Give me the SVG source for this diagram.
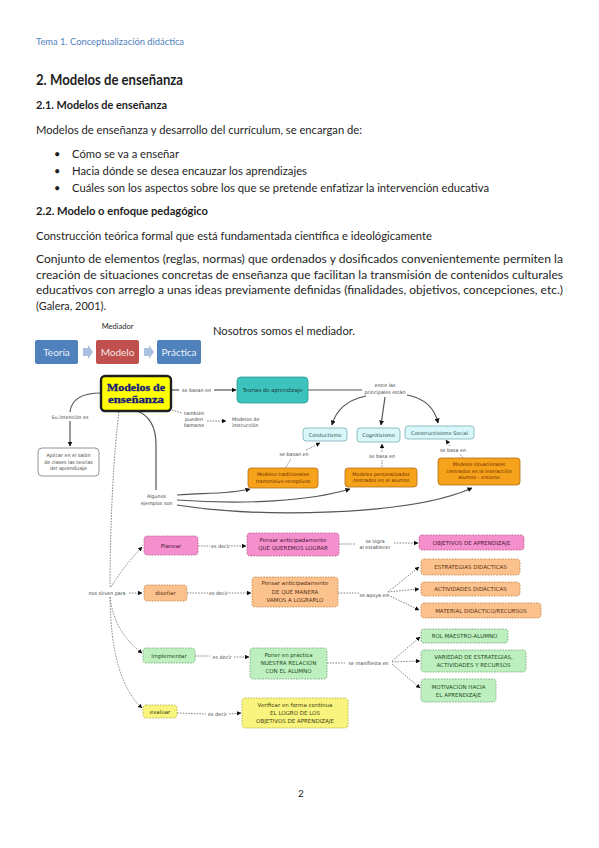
<svg xmlns="http://www.w3.org/2000/svg" width="599" height="848" viewBox="0 0 599 848">
<style>
.doc{font-family:Lato,"Liberation Sans",sans-serif;fill:#1e1e1e}
.m{font-family:"DejaVu Sans","Liberation Sans",sans-serif}
.lbl{font-size:4.8px;fill:#444;text-anchor:middle}
.bt{font-size:5.5px;text-anchor:middle}
.sol{fill:none;stroke:#555;stroke-width:1.2}
.dsh{fill:none;stroke:#7a7a7a;stroke-width:0.9;stroke-dasharray:1.6 1.2}
.pink{fill:#F590CC;stroke:#B45A96;stroke-width:0.8;stroke-dasharray:1.6 1.2}
.lor{fill:#FBC28E;stroke:#C08446;stroke-width:0.8;stroke-dasharray:1.6 1.2}
.grn{fill:#BDF0BE;stroke:#6FA671;stroke-width:0.8;stroke-dasharray:1.6 1.2}
.yel{fill:#F8F47E;stroke:#B3AD3E;stroke-width:0.8;stroke-dasharray:1.6 1.2}
.org{fill:#F7A21B;stroke:#B07016;stroke-width:0.8}
.cy{fill:#D8F7F8;stroke:#7BAFB4;stroke-width:0.8}
.mn{font-family:"Liberation Serif","DejaVu Serif",serif;font-weight:bold;font-size:11px;fill:#1B1B7A;text-anchor:middle;stroke:#1B1B7A;stroke-width:0.35}
</style>
<defs>
<marker id="ah" viewBox="0 0 10 10" refX="9" refY="5" markerWidth="5" markerHeight="5" orient="auto" markerUnits="userSpaceOnUse"><path d="M0,0 L10,5 L0,10 z" fill="#111"/></marker>
<marker id="ahs" viewBox="0 0 10 10" refX="9" refY="5" markerWidth="4.5" markerHeight="4.5" orient="auto" markerUnits="userSpaceOnUse"><path d="M0,0 L10,5 L0,10 z" fill="#111"/></marker>
</defs>
<rect width="599" height="848" fill="#fff"/>

<g id="page-text" class="doc">
<text x="36" y="45" font-size="8.5" style="fill:#4F81BD" textLength="148" lengthAdjust="spacingAndGlyphs">Tema 1. Conceptualización didáctica</text>
<text x="36" y="85" font-size="14.5" font-weight="bold" textLength="147" lengthAdjust="spacingAndGlyphs">2. Modelos de enseñanza</text>
<text x="36" y="109" font-size="11.5" font-weight="bold" textLength="131" lengthAdjust="spacingAndGlyphs">2.1. Modelos de enseñanza</text>
<text x="36" y="134" font-size="11" textLength="326" lengthAdjust="spacingAndGlyphs">Modelos de enseñanza y desarrollo del currículum, se encargan de:</text>
<text x="54" y="158" font-size="11">•</text>
<text x="54" y="175" font-size="11">•</text>
<text x="54" y="192" font-size="11">•</text>
<text x="72" y="158" font-size="11" textLength="107" lengthAdjust="spacingAndGlyphs">Cómo se va a enseñar</text>
<text x="72" y="175" font-size="11" textLength="235" lengthAdjust="spacingAndGlyphs">Hacia dónde se desea encauzar los aprendizajes</text>
<text x="72" y="192" font-size="11" textLength="417" lengthAdjust="spacingAndGlyphs">Cuáles son los aspectos sobre los que se pretende enfatizar la intervención educativa</text>
<text x="36" y="215" font-size="11.5" font-weight="bold" textLength="172" lengthAdjust="spacingAndGlyphs">2.2. Modelo o enfoque pedagógico</text>
<text x="36" y="240" font-size="11" textLength="396" lengthAdjust="spacingAndGlyphs">Construcción teórica formal que está fundamentada científica e ideológicamente</text>
<text x="36" y="263" font-size="11" textLength="527" lengthAdjust="spacingAndGlyphs">Conjunto de elementos (reglas, normas) que ordenados y dosificados convenientemente permiten la</text>
<text x="36" y="279" font-size="11" textLength="527" lengthAdjust="spacingAndGlyphs">creación de situaciones concretas de enseñanza que facilitan la transmisión de contenidos culturales</text>
<text x="36" y="294" font-size="11" textLength="527" lengthAdjust="spacingAndGlyphs">educativos con arreglo a unas ideas previamente definidas (finalidades, objetivos, concepciones, etc.)</text>
<text x="36" y="310" font-size="11" textLength="70" lengthAdjust="spacingAndGlyphs">(Galera, 2001).</text>
<text x="117.5" y="329" font-size="7.5" text-anchor="middle">Mediador</text>
<text x="213" y="335" font-size="11" textLength="142" lengthAdjust="spacingAndGlyphs">Nosotros somos el mediador.</text>
<text x="298" y="797" font-size="10">2</text>
</g>

<g id="tmp-flow">
<rect x="35" y="340" width="43" height="24" rx="2" fill="#4F81BD"/>
<text x="56.5" y="356" font-size="10" text-anchor="middle" font-family="Lato,'Liberation Sans',sans-serif" fill="#EAF0F8">Teoría</text>
<path d="M83,348 h5 v-3 l5,7 l-5,7 v-3 h-5 z" fill="#A9C0DF"/>
<rect x="96" y="340" width="43" height="24" rx="2" fill="#C0504D"/>
<text x="117.5" y="356" font-size="10" text-anchor="middle" font-family="Lato,'Liberation Sans',sans-serif" fill="#F6E6E6">Modelo</text>
<path d="M144,348 h5 v-3 l5,7 l-5,7 v-3 h-5 z" fill="#A9C0DF"/>
<rect x="157" y="340" width="44" height="24" rx="2" fill="#4F81BD"/>
<text x="179" y="356" font-size="10" text-anchor="middle" font-family="Lato,'Liberation Sans',sans-serif" fill="#EAF0F8">Práctica</text>
</g>

<g id="connectors">
<path class="sol" d="M172,390 L179,390"/>
<path class="sol" d="M214,390 L236,390" marker-end="url(#ah)"/>
<path class="sol" d="M308,390 L362,390"/>
<path class="sol" d="M366,396 Q338,402 332,425" marker-end="url(#ah)"/>
<path class="sol" d="M385,397 L381,425" marker-end="url(#ah)"/>
<path class="sol" d="M407,395 Q433,400 438,423" marker-end="url(#ah)"/>
<path class="sol" d="M101,393 Q72,393 70,412"/>
<path class="sol" d="M70,421 L70,446" marker-end="url(#ah)"/>
<path class="sol" d="M137,411 Q156,418 156,445 L156,490"/>
<path class="sol" d="M177,495 C205,493 230,494 250,489" marker-end="url(#ah)"/>
<path class="sol" d="M177,500 C245,505 310,501 350,489" marker-end="url(#ah)"/>
<path class="sol" d="M177,505 C260,518 410,516 472,488" marker-end="url(#ah)"/>

<path class="dsh" d="M172,410 L182,413"/>
<path class="dsh" d="M207,421 L226,421" marker-end="url(#ahs)"/>
<path class="dsh" d="M286,467 L291,459"/>
<path class="dsh" d="M306,450 L320,443" marker-end="url(#ahs)"/>
<path class="dsh" d="M382,467 L382,460"/>
<path class="dsh" d="M382,452 L382,444" marker-end="url(#ahs)"/>
<path class="dsh" d="M463,458 L460,454"/>
<path class="dsh" d="M450,446 L446,440" marker-end="url(#ahs)"/>

<path class="dsh" d="M119,412 C114,450 110,520 110,588"/>
<path class="dsh" d="M111,587 Q124,566 142,547" marker-end="url(#ahs)"/>
<path class="dsh" d="M129,593 L142,593" marker-end="url(#ahs)"/>
<path class="dsh" d="M110,597 Q114,632 142,653" marker-end="url(#ahs)"/>
<path class="dsh" d="M110,597 Q111,680 142,708" marker-end="url(#ahs)"/>

<path class="dsh" d="M198,546 L210,546"/>
<path class="dsh" d="M231,546 L246,546" marker-end="url(#ahs)"/>
<path class="dsh" d="M187,593 L208,593"/>
<path class="dsh" d="M229,593 L251,593" marker-end="url(#ahs)"/>
<path class="dsh" d="M195,656 L210,656"/>
<path class="dsh" d="M234,657 L249,657" marker-end="url(#ahs)"/>
<path class="dsh" d="M177,713 L206,714"/>
<path class="dsh" d="M229,714 L241,713" marker-end="url(#ahs)"/>

<path class="dsh" d="M339,544 L356,544"/>
<path class="dsh" d="M394,543 L418,543" marker-end="url(#ahs)"/>
<path class="dsh" d="M338,593 L360,593"/>
<path class="dsh" d="M388,592 L419,567" marker-end="url(#ahs)"/>
<path class="dsh" d="M388,592 L419,589" marker-end="url(#ahs)"/>
<path class="dsh" d="M388,595 L419,610" marker-end="url(#ahs)"/>
<path class="dsh" d="M327,663 L345,663"/>
<path class="dsh" d="M392,661 L420,637" marker-end="url(#ahs)"/>
<path class="dsh" d="M392,662 L420,661" marker-end="url(#ahs)"/>
<path class="dsh" d="M392,664 L420,688" marker-end="url(#ahs)"/>
</g>

<g id="labels" class="m">
<text class="lbl" x="196.5" y="391.7">se basan en</text>
<text class="lbl" x="194" y="414.5">también</text>
<text class="lbl" x="194" y="420.5">pueden</text>
<text class="lbl" x="194" y="426.5">llamarse</text>
<text class="lbl" x="385" y="387">entre las</text>
<text class="lbl" x="385" y="394">principales están</text>
<text class="lbl" x="70" y="418.5">Su intención es</text>
<text class="lbl" x="156.5" y="497.5">Algunos</text>
<text class="lbl" x="156.5" y="504.5">ejemplos son</text>
<text class="lbl" x="294" y="455.7">se basan en</text>
<text class="lbl" x="382" y="457.7">se basa en</text>
<text class="lbl" x="453" y="451.7">se basa en</text>
<text class="lbl" x="107" y="594.7">nos sirven para</text>
<text class="lbl" x="220.5" y="547.7">es decir</text>
<text class="lbl" x="218.5" y="594.7">es decir</text>
<text class="lbl" x="222" y="658.7">es decir</text>
<text class="lbl" x="217.5" y="716.2">es decir</text>
<text class="lbl" x="375" y="542.5">se  logra</text>
<text class="lbl" x="375" y="548.5">al establecer</text>
<text class="lbl" x="374" y="596.5">se apoya en</text>
<text class="lbl" x="368.5" y="664.7">se manifiesta en</text>
</g>

<g id="n-modelos">
<rect x="101" y="376" width="70" height="35" rx="4" fill="#FFFF00" stroke="#1f1f1f" stroke-width="2.4"/>
<text class="mn" x="136" y="391" textLength="58" lengthAdjust="spacingAndGlyphs">Modelos de</text>
<text class="mn" x="136" y="403" textLength="56" lengthAdjust="spacingAndGlyphs">enseñanza</text>
</g>
<g id="n-teorias" class="m">
<rect x="237" y="377" width="71" height="26" rx="4" fill="#3DC3BD" stroke="#2C9A95" stroke-width="0.8"/>
<text class="bt" x="272.5" y="392" fill="#1c3a3a" textLength="60" lengthAdjust="spacingAndGlyphs">Teorías de aprendizaje</text>
</g>
<g id="n-instruccion" class="m">
<text x="232" y="421" font-size="4.8" fill="#444">Modelos de</text>
<text x="232" y="427" font-size="4.8" fill="#444">instrucción</text>
</g>
<g id="n-aplicar" class="m">
<rect x="38" y="448" width="61" height="28" rx="4" fill="#fff" stroke="#888" stroke-width="0.9"/>
<text class="bt" x="68.5" y="457" fill="#444" style="font-size:4.8px">Aplicar en el salón</text>
<text class="bt" x="68.5" y="463.5" fill="#444" style="font-size:4.8px">de clases las teorías</text>
<text class="bt" x="68.5" y="470" fill="#444" style="font-size:4.8px">del aprendizaje</text>
</g>
<g id="n-conductismo" class="m">
<rect class="cy" x="303" y="428" width="44" height="13" rx="3"/>
<text class="bt" x="325" y="436.5" fill="#2a4a50" style="font-size:5px">Conductismo</text>
</g>
<g id="n-cognitivismo" class="m">
<rect class="cy" x="357" y="428" width="43" height="14" rx="3"/>
<text class="bt" x="378.5" y="437" fill="#2a4a50" style="font-size:5px">Cognitivismo</text>
</g>
<g id="n-constructivismo" class="m">
<rect class="cy" x="405" y="426" width="69" height="13" rx="3"/>
<text class="bt" x="439.5" y="434.5" fill="#2a4a50" style="font-size:5px">Constructivismo Social</text>
</g>
<g id="n-tradicionales" class="m">
<rect class="org" x="248" y="468" width="70" height="20" rx="3"/>
<text class="bt" x="283" y="476" fill="#6a2a00" style="font-size:4.8px">Modelos tradicionales</text>
<text class="bt" x="283" y="482.5" fill="#6a2a00" style="font-size:4.8px">transmisivo-receptivos</text>
</g>
<g id="n-personalizados" class="m">
<rect class="org" x="345" y="468" width="72" height="19" rx="3"/>
<text class="bt" x="381" y="475.5" fill="#6a2a00" style="font-size:4.8px">Modelos personalizados</text>
<text class="bt" x="381" y="482" fill="#6a2a00" style="font-size:4.8px">centrados en el alumno</text>
</g>
<g id="n-situacionales" class="m">
<rect class="org" x="438" y="458" width="82" height="27" rx="3"/>
<text class="bt" x="479" y="466" fill="#6a2a00" style="font-size:4.8px">Modelos situacionales</text>
<text class="bt" x="479" y="472.5" fill="#6a2a00" style="font-size:4.8px">centrados en la interacción</text>
<text class="bt" x="479" y="479" fill="#6a2a00" style="font-size:4.8px">alumno - entorno</text>
</g>

<g id="n-planear" class="m">
<rect class="pink" x="144" y="536" width="54" height="19" rx="3"/>
<text class="bt" x="171" y="547.5" fill="#4a1a40">Planear</text>
</g>
<g id="n-pensar-que" class="m">
<rect class="pink" x="247" y="533" width="92" height="23" rx="3"/>
<text class="bt" x="293" y="541.5" fill="#4a1a40">Pensar anticipadamente</text>
<text class="bt" x="293" y="549.5" fill="#4a1a40">QUÉ QUEREMOS LOGRAR</text>
</g>
<g id="n-objetivos" class="m">
<rect class="pink" x="419" y="535" width="105" height="15" rx="3"/>
<text class="bt" x="471.5" y="544.5" fill="#4a1a40">OBJETIVOS DE APRENDIZAJE</text>
</g>
<g id="n-disenar" class="m">
<rect class="lor" x="144" y="585" width="43" height="16" rx="3"/>
<text class="bt" x="165.5" y="595" fill="#5a3010">diseñar</text>
</g>
<g id="n-pensar-manera" class="m">
<rect class="lor" x="252" y="577" width="86" height="30" rx="3"/>
<text class="bt" x="295" y="585" fill="#5a3010">Pensar anticipadamente</text>
<text class="bt" x="295" y="593.5" fill="#5a3010">DE QUÉ MANERA</text>
<text class="bt" x="295" y="602" fill="#5a3010">VAMOS A LOGRARLO</text>
</g>
<g id="n-estrategias" class="m">
<rect class="lor" x="421" y="559" width="99" height="16" rx="3"/>
<text class="bt" x="470.5" y="569" fill="#5a3010">ESTRATEGIAS DIDÁCTICAS</text>
</g>
<g id="n-actividades" class="m">
<rect class="lor" x="421" y="582" width="99" height="14" rx="3"/>
<text class="bt" x="470.5" y="591" fill="#5a3010">ACTIVIDADES DIDÁCTICAS</text>
</g>
<g id="n-material" class="m">
<rect class="lor" x="421" y="603" width="120" height="15" rx="3"/>
<text class="bt" x="481" y="612.5" fill="#5a3010">MATERIAL DIDÁCTICO/RECURSOS</text>
</g>
<g id="n-implementar" class="m">
<rect class="grn" x="143" y="648" width="52" height="15" rx="3"/>
<text class="bt" x="169" y="657.5" fill="#1e4a1e">Implementar</text>
</g>
<g id="n-poner" class="m">
<rect class="grn" x="250" y="648" width="77" height="31" rx="3"/>
<text class="bt" x="288.5" y="657" fill="#1e4a1e">Poner en práctica</text>
<text class="bt" x="288.5" y="665" fill="#1e4a1e">NUESTRA RELACIÓN</text>
<text class="bt" x="288.5" y="673" fill="#1e4a1e">CON EL ALUMNO</text>
</g>
<g id="n-rol" class="m">
<rect class="grn" x="421" y="629" width="87" height="14" rx="3"/>
<text class="bt" x="464.5" y="638" fill="#1e4a1e">ROL MAESTRO-ALUMNO</text>
</g>
<g id="n-variedad" class="m">
<rect class="grn" x="421" y="650" width="105" height="22" rx="3"/>
<text class="bt" x="473.5" y="659" fill="#1e4a1e">VARIEDAD DE ESTRATEGIAS,</text>
<text class="bt" x="473.5" y="667" fill="#1e4a1e">ACTIVIDADES Y RECURSOS</text>
</g>
<g id="n-motivacion" class="m">
<rect class="grn" x="421" y="679" width="75" height="23" rx="3"/>
<text class="bt" x="458.5" y="689" fill="#1e4a1e">MOTIVACIÓN HACIA</text>
<text class="bt" x="458.5" y="697" fill="#1e4a1e">EL APRENDIZAJE</text>
</g>
<g id="n-evaluar" class="m">
<rect class="yel" x="143" y="705" width="34" height="13" rx="3"/>
<text class="bt" x="160" y="713.5" fill="#3e3e10">evaluar</text>
</g>
<g id="n-verificar" class="m">
<rect class="yel" x="242" y="698" width="106" height="30" rx="3"/>
<text class="bt" x="295" y="706.5" fill="#3e3e10">Verificar en forma continua</text>
<text class="bt" x="295" y="714.5" fill="#3e3e10">EL LOGRO DE LOS</text>
<text class="bt" x="295" y="722.5" fill="#3e3e10">OBJETIVOS DE APRENDIZAJE</text>
</g>
</svg>
